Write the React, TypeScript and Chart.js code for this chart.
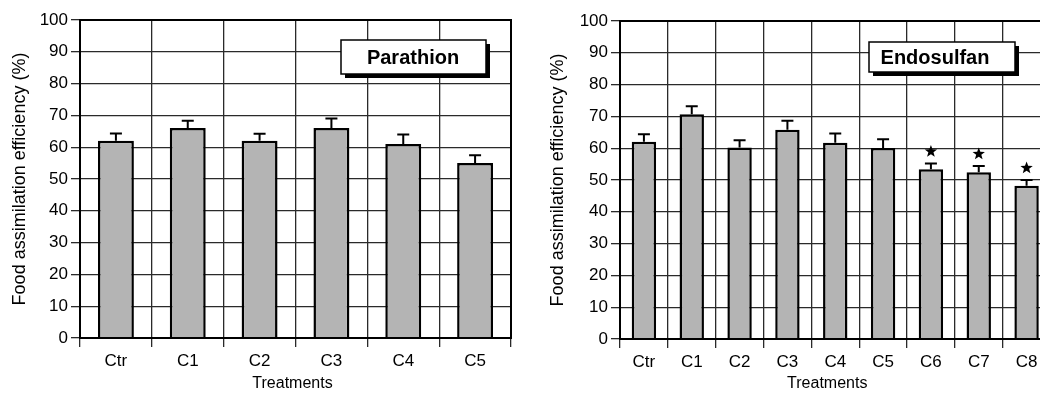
import React, { useEffect, useRef } from "react";
import { Chart, registerables } from "chart.js";

Chart.register(...registerables);

// ---------- Data ----------
const parathionLabels = ["Ctr", "C1", "C2", "C3", "C4", "C5"];
const parathionMeans = [62, 66, 62, 66, 61, 55];
const parathionErrors = [2.3, 2.3, 2.2, 3.0, 3.0, 2.5];
const parathionSignificant = [false, false, false, false, false, false];

const endosulfanLabels = ["Ctr", "C1", "C2", "C3", "C4", "C5", "C6", "C7", "C8"];
const endosulfanMeans = [62, 70.7, 60.2, 65.8, 61.7, 60.1, 53.4, 52.4, 48.2];
const endosulfanErrors = [2.4, 2.5, 2.3, 2.8, 2.9, 2.7, 1.8, 2.0, 1.8];
const endosulfanSignificant = [false, false, false, false, false, false, true, true, true];

const yMin = 0;
const yMax = 100;
const yStep = 10;
const yTitle = "Food assimilation efficiency (%)";
const xTitle = "Treatments";

const FONT = '"Liberation Sans", Arial, Helvetica, sans-serif';

type PanelProps = {
  labels: string[];
  means: number[];
  errors: number[];
  significant: boolean[];
  name: string;
  canvasLeft: number;
  canvasWidth: number;
  yAxisWidth: number;
  yTitlePad: number;
  padTop: number;
  padRight: number;
  xAxisHeight: number;
  barPct: number;
  box: { dx: number; dy: number; w: number; h: number; tx: number };
  xTitleShift: number;
};

const overlayPlugin = {
  id: "overlay",
  afterDatasetsDraw(chart: any, _args: any, opts: any) {
    const { ctx, chartArea: a } = chart;
    const x = chart.scales.x;
    const y = chart.scales.y;
    ctx.save();
    // error bars
    ctx.strokeStyle = "#000";
    ctx.fillStyle = "#000";
    ctx.lineWidth = 2;
    opts.means.forEach((m: number, i: number) => {
      const px = x.getPixelForValue(i);
      const top = y.getPixelForValue(m);
      const ey = y.getPixelForValue(m + opts.errors[i]);
      ctx.beginPath();
      ctx.moveTo(px, top);
      ctx.lineTo(px, ey);
      ctx.moveTo(px - 6, ey);
      ctx.lineTo(px + 6, ey);
      ctx.stroke();
      if (opts.significant[i]) {
        const cx = px;
        const cy = ey - 12;
        const R = 6.5;
        const r = 2.7;
        ctx.beginPath();
        for (let k = 0; k < 10; k++) {
          const ang = -Math.PI / 2 + (k * Math.PI) / 5;
          const rr = k % 2 === 0 ? R : r;
          const xx = cx + rr * Math.cos(ang);
          const yy = cy + rr * Math.sin(ang);
          if (k === 0) ctx.moveTo(xx, yy);
          else ctx.lineTo(xx, yy);
        }
        ctx.closePath();
        ctx.fill();
      }
    });
    // frame
    ctx.lineWidth = 2;
    ctx.strokeStyle = "#000";
    ctx.strokeRect(a.left, a.top, a.right - a.left, a.bottom - a.top);
    // name box
    const b = opts.box;
    const bx = a.left + b.dx;
    const by = a.top + b.dy;
    ctx.fillStyle = "#000";
    ctx.fillRect(bx + 4, by + 4, b.w, b.h);
    ctx.fillStyle = "#fff";
    ctx.fillRect(bx, by, b.w, b.h);
    ctx.lineWidth = 1.5;
    ctx.strokeStyle = "#000";
    ctx.strokeRect(bx, by, b.w, b.h);
    ctx.fillStyle = "#000";
    ctx.font = `bold 20px ${FONT}`;
    ctx.textAlign = "center";
    ctx.textBaseline = "middle";
    ctx.fillText(opts.name, bx + b.tx, by + b.h / 2 + 1);
    // x title
    ctx.font = `16px ${FONT}`;
    ctx.fillText(opts.xTitle, (a.left + a.right) / 2 + opts.xTitleShift, chart.height - 11);
    ctx.restore();
  },
};

function Panel(p: PanelProps) {
  const ref = useRef<HTMLCanvasElement | null>(null);
  useEffect(() => {
    if (!ref.current) return;
    const chart = new Chart(ref.current, {
      type: "bar",
      data: {
        labels: p.labels,
        datasets: [
          {
            data: p.means,
            backgroundColor: "#b4b4b4",
            borderColor: "#000",
            borderWidth: 2.5,
            barPercentage: p.barPct,
            categoryPercentage: 1,
          },
        ],
      },
      options: {
        responsive: false,
        animation: false,
        devicePixelRatio: 1,
        layout: { padding: { top: p.padTop, right: p.padRight, bottom: 0, left: 0 } },
        plugins: {
          legend: { display: false },
          tooltip: { enabled: false },
          overlay: {
            means: p.means,
            errors: p.errors,
            significant: p.significant,
            name: p.name,
            box: p.box,
            xTitle: xTitle,
            xTitleShift: p.xTitleShift,
          },
        } as any,
        scales: {
          x: {
            afterFit: (s: any) => {
              s.height = p.xAxisHeight;
            },
            grid: { color: "#2a2a2a", lineWidth: 1.3, tickLength: 9, offset: true },
            border: { color: "#000", width: 2 },
            ticks: { color: "#000", font: { family: FONT, size: 17 }, padding: 4 },
          },
          y: {
            min: yMin,
            max: yMax,
            afterFit: (s: any) => {
              s.width = p.yAxisWidth;
            },
            grid: { color: "#2a2a2a", lineWidth: 1.3, tickLength: 9 },
            border: { color: "#000", width: 2 },
            ticks: { stepSize: yStep, color: "#000", font: { family: FONT, size: 17 }, padding: 3 },
            title: {
              display: true,
              text: yTitle,
              color: "#000",
              font: { family: FONT, size: 18 },
              padding: { top: p.yTitlePad, bottom: 0 },
            },
          },
        },
      },
      plugins: [overlayPlugin],
    });
    return () => chart.destroy();
  }, []);
  return (
    <canvas
      ref={ref}
      width={p.canvasWidth}
      height={395}
      style={{ position: "absolute", left: p.canvasLeft, top: 0, width: p.canvasWidth, height: 395 }}
    />
  );
}

export default function App() {
  return (
    <div
      style={{
        position: "fixed",
        left: 0,
        top: 0,
        width: 1040,
        height: 395,
        overflow: "hidden",
        background: "#fff",
      }}
    >
      <Panel
        labels={parathionLabels}
        means={parathionMeans}
        errors={parathionErrors}
        significant={parathionSignificant}
        name="Parathion"
        canvasLeft={0}
        canvasWidth={520}
        yAxisWidth={80}
        yTitlePad={9}
        padTop={20}
        padRight={9}
        xAxisHeight={57}
        barPct={0.5}
        box={{ dx: 261, dy: 20, w: 145, h: 34, tx: 72 }}
        xTitleShift={-3}
      />
      <Panel
        labels={endosulfanLabels}
        means={endosulfanMeans}
        errors={endosulfanErrors}
        significant={endosulfanSignificant}
        name="Endosulfan"
        canvasLeft={520}
        canvasWidth={540}
        yAxisWidth={100}
        yTitlePad={27}
        padTop={21}
        padRight={9.5}
        xAxisHeight={56}
        barPct={0.51}
        box={{ dx: 249, dy: 21, w: 146, h: 30, tx: 66 }}
        xTitleShift={-8}
      />
    </div>
  );
}
